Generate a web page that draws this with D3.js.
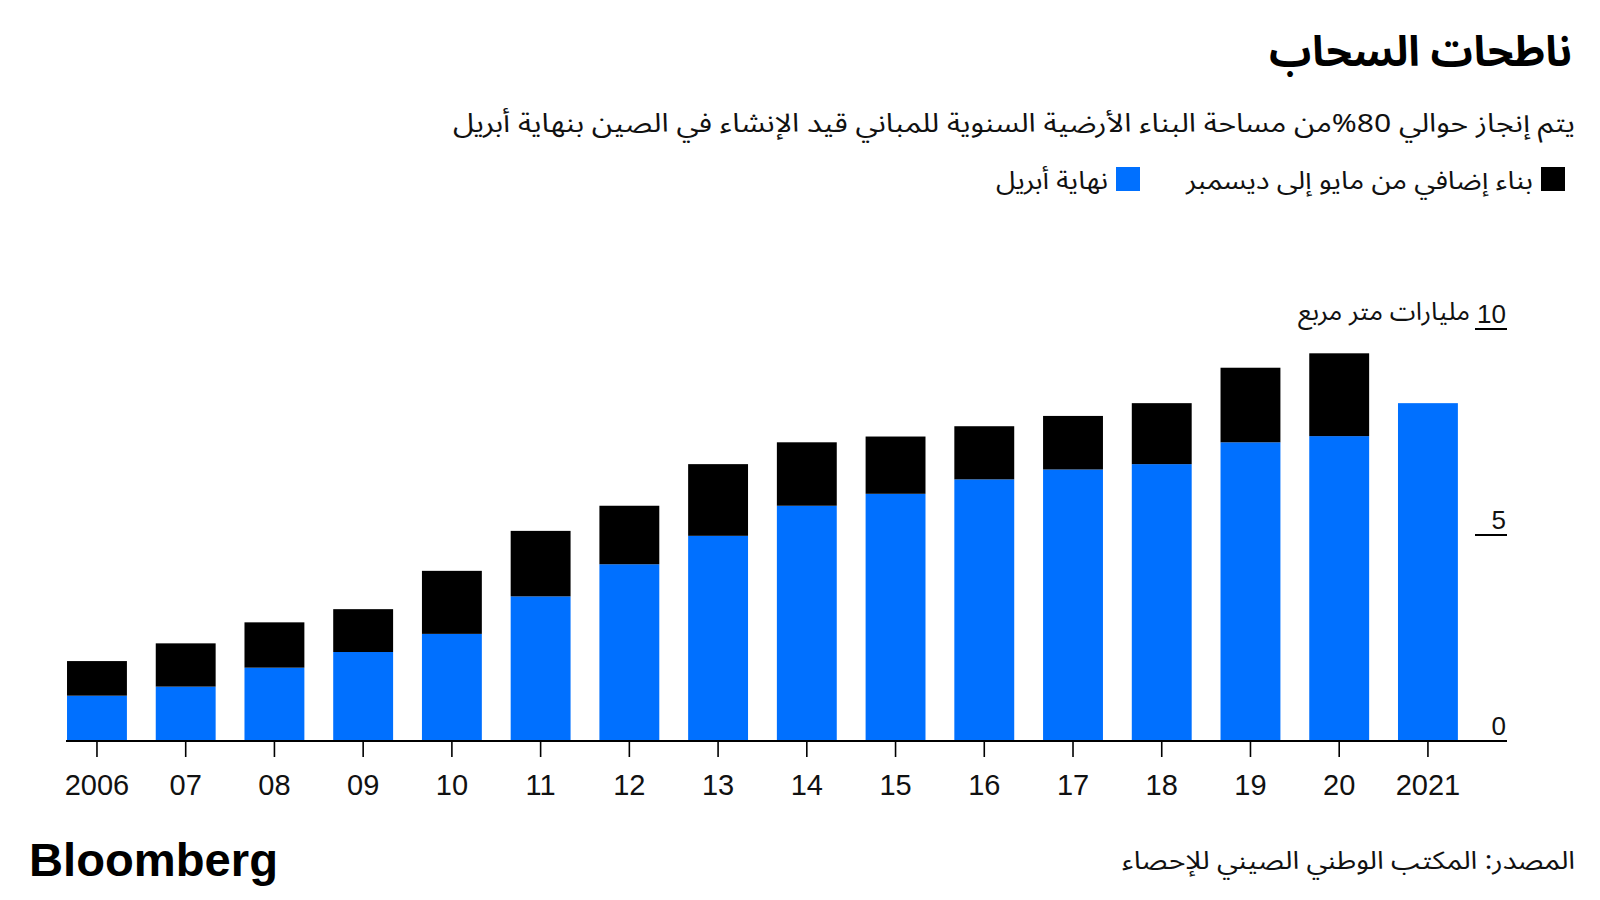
<!DOCTYPE html>
<html lang="ar">
<head>
<meta charset="utf-8">
<script src="https://cdn.jsdelivr.net/npm/d3@7"></script>
<style>
  html, body { margin: 0; padding: 0; background: #fff; }
  svg { display: block; }
  .ar { font-family: "Noto Sans Arabic", "DejaVu Sans", sans-serif; }
  .lat { font-family: "Liberation Sans", Arial, sans-serif; }
</style>
</head>
<body>
<svg id="chart" width="1600" height="900"></svg>
<script>
// ---- data ----
const years = ["2006","07","08","09","10","11","12","13","14","15","16","17","18","19","20","2021"];
const endApril = [1.10,1.32,1.78,2.16,2.60,3.51,4.29,4.98,5.71,6.00,6.35,6.59,6.72,7.25,7.40,8.20];
const mayToDec = [0.84,1.05,1.10,1.04,1.53,1.59,1.42,1.74,1.54,1.39,1.29,1.30,1.48,1.81,2.01,0];
const yTicks = [0,5,10];
const seriesKeys = ["endApril","mayToDec"];
const seriesNames = ["نهاية أبريل","بناء إضافي من مايو إلى ديسمبر"];
const seriesColors = ["#0070ff","#000000"];

const titleText = "ناطحات السحاب";
const subtitleText = "يتم إنجاز حوالي 80%من مساحة البناء الأرضية السنوية للمباني قيد الإنشاء في الصين بنهاية أبريل";
const unitText = "مليارات متر مربع";
const sourceText = "المصدر: المكتب الوطني الصيني للإحصاء";

const rows = years.map((y, i) => ({year: y, endApril: endApril[i], mayToDec: mayToDec[i]}));

const svg = d3.select("#chart");

// ---- scales ----
const x = d3.scaleBand().domain(years).range([52.6, 1472.3]).paddingInner(0.325).paddingOuter(0.1625);
const y = d3.scaleLinear().domain([0, 10]).range([741, 329]);
const color = d3.scaleOrdinal().domain(seriesKeys).range(seriesColors);

const stacked = d3.stack().keys(seriesKeys)(rows);

// ---- bars ----
svg.append("g").selectAll("g").data(stacked).join("g")
  .attr("fill", d => color(d.key))
  .selectAll("rect").data(d => d).join("rect")
  .attr("x", d => x(d.data.year))
  .attr("width", x.bandwidth())
  .attr("y", d => y(d[1]))
  .attr("height", d => Math.max(0, y(d[0]) - y(d[1])));

// ---- x axis ----
const xAxis = svg.append("g").attr("transform", `translate(0,${y(0)})`);
xAxis.append("line").attr("x1", 66).attr("x2", 1507).attr("y1", 0).attr("y2", 0)
  .attr("stroke", "#000").attr("stroke-width", 2);
xAxis.selectAll("line.tick").data(years).join("line").attr("class", "tick")
  .attr("x1", d => x(d) + x.bandwidth() / 2).attr("x2", d => x(d) + x.bandwidth() / 2)
  .attr("y1", 0).attr("y2", 16).attr("stroke", "#000").attr("stroke-width", 1.6);
xAxis.selectAll("text").data(years).join("text").attr("class", "lat")
  .attr("x", d => x(d) + x.bandwidth() / 2).attr("y", 54)
  .attr("text-anchor", "middle").attr("font-size", 29).attr("fill", "#111")
  .text(d => d);

// ---- y axis (right) ----
const yAxis = svg.append("g");
yAxis.selectAll("line").data(yTicks.filter(t => t > 0)).join("line")
  .attr("x1", 1475).attr("x2", 1507).attr("y1", d => y(d)).attr("y2", d => y(d))
  .attr("stroke", "#000").attr("stroke-width", 2);
yAxis.selectAll("text.yt").data(yTicks).join("text").attr("class", "yt lat")
  .attr("x", 1506).attr("y", d => y(d) - 6)
  .attr("text-anchor", "end").attr("font-size", 26).attr("fill", "#111")
  .text(d => d);
svg.append("text").attr("class", "ar")
  .attr("x", 1470).attr("y", y(10) - 9)
  .attr("text-anchor", "start").attr("direction", "rtl").attr("font-size", 25).attr("fill", "#111")
  .attr("textLength", 172).attr("lengthAdjust", "spacingAndGlyphs")
  .text(unitText);

// ---- title, subtitle ----
svg.append("text").attr("class", "ar")
  .attr("x", 1572).attr("y", 66).attr("text-anchor", "start").attr("direction", "rtl")
  .attr("font-size", 42).attr("font-weight", 700).attr("fill", "#000")
  .text(titleText);
svg.append("text").attr("class", "ar")
  .attr("x", 1575).attr("y", 132).attr("text-anchor", "start").attr("direction", "rtl")
  .attr("font-size", 26).attr("fill", "#111")
  .attr("textLength", 1122).attr("lengthAdjust", "spacingAndGlyphs")
  .text(subtitleText);

// ---- legend ----
const legendItems = [
  {key: "mayToDec", name: seriesNames[1], sx: 1541, w: 347},
  {key: "endApril", name: seriesNames[0], sx: 1116, w: 112}
];
const lg = svg.append("g");
lg.selectAll("rect").data(legendItems).join("rect")
  .attr("x", d => d.sx).attr("y", 167).attr("width", 24).attr("height", 24)
  .attr("fill", d => color(d.key));
lg.selectAll("text").data(legendItems).join("text").attr("class", "ar")
  .attr("x", d => d.sx - 8).attr("y", 189)
  .attr("text-anchor", "start").attr("direction", "rtl")
  .attr("font-size", 25).attr("fill", "#111")
  .attr("textLength", d => d.w).attr("lengthAdjust", "spacingAndGlyphs")
  .text(d => d.name);

// ---- footer ----
svg.append("text").attr("class", "lat")
  .attr("x", 29).attr("y", 876).attr("font-size", 46).attr("font-weight", 700)
  .attr("textLength", 249).attr("lengthAdjust", "spacingAndGlyphs").attr("fill", "#000")
  .text("Bloomberg");
svg.append("text").attr("class", "ar")
  .attr("x", 1575).attr("y", 869).attr("text-anchor", "start").attr("direction", "rtl")
  .attr("font-size", 25).attr("fill", "#111")
  .attr("textLength", 453).attr("lengthAdjust", "spacingAndGlyphs")
  .text(sourceText);
</script>
</body>
</html>
